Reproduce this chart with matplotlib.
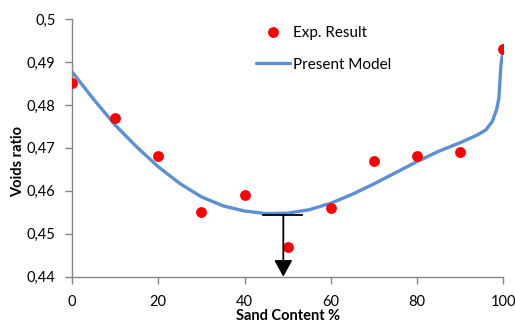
import matplotlib
matplotlib.use("Agg")
import matplotlib.pyplot as plt
from matplotlib.ticker import FuncFormatter

plt.rcParams['font.family'] = ['Lato', 'DejaVu Sans']

# experimental points
sand_exp = [0, 10, 20, 30, 40, 50, 60, 70, 80, 90, 100]
voids_exp = [0.485, 0.477, 0.468, 0.455, 0.459, 0.447, 0.456, 0.467, 0.468, 0.469, 0.493]

# model curve
sand_model = [0, 5, 10, 15, 20, 25, 30, 35, 40, 45, 50, 55, 60, 65, 70, 75, 80,
              85, 90, 94, 96, 97.5, 98.5, 99, 99.5, 99.8, 100]
voids_model = [0.4877, 0.4813, 0.4753, 0.4702, 0.4656, 0.4617, 0.4586, 0.4565,
               0.4553, 0.4547, 0.4548, 0.4556, 0.4571, 0.4592, 0.4616, 0.4642,
               0.4668, 0.4692, 0.4712, 0.4730, 0.4742, 0.4762, 0.4790, 0.4815,
               0.4895, 0.4915, 0.4930]

# optimum marker
opt_x = 49
opt_y = 0.4544
bar_x = [44.3, 53.4]

fig = plt.figure(figsize=(5.15, 3.23), dpi=100)
ax = fig.add_axes([0.140, 0.1433, 0.837, 0.7977])

ax.plot(sand_model, voids_model, color='#5b8fd6', lw=2.4, label='Present Model',
        solid_capstyle='round', solid_joinstyle='round', zorder=2)
ax.plot(sand_exp, voids_exp, 'o', color='#ff0000', ms=7.8, mec='none',
        label='Exp. Result', zorder=3)

# arrow showing the optimum sand content
ax.plot(bar_x, [opt_y, opt_y], color='black', lw=1.3, zorder=4)
ax.annotate('', xy=(opt_x, 0.44), xytext=(opt_x, opt_y),
            arrowprops=dict(arrowstyle='-|>,head_length=1.0,head_width=0.55',
                            color='black', lw=1.3, shrinkA=0, shrinkB=0),
            zorder=4)

ax.set_xlim(0, 100)
ax.set_ylim(0.44, 0.5)
ax.set_xticks(range(0, 101, 20))
ax.set_yticks([0.44, 0.45, 0.46, 0.47, 0.48, 0.49, 0.5])
ax.yaxis.set_major_formatter(FuncFormatter(lambda v, p: ('%g' % round(v, 3)).replace('.', ',')))

for s in ['top', 'right']:
    ax.spines[s].set_visible(False)
for s in ['left', 'bottom']:
    ax.spines[s].set_color('#868686')
    ax.spines[s].set_linewidth(1.0)
ax.tick_params(axis='both', colors='#868686', labelcolor='black', length=5,
               width=1.0, labelsize=10.5)
ax.tick_params(axis='x', pad=8)
ax.tick_params(axis='y', pad=7)

ax.set_xlabel('Sand Content %', fontsize=10.5, fontweight='bold', va='top')
ax.set_ylabel('Voids ratio', fontsize=10.5, fontweight='bold')
ax.xaxis.set_label_coords(0.5, -0.126)
ax.yaxis.set_label_coords(-0.109, 0.449)

h, l = ax.get_legend_handles_labels()
ax.legend(h[::-1], l[::-1], loc='upper left', bbox_to_anchor=(256 / 515, 1 - 26 / 323),
          bbox_transform=fig.transFigure, frameon=False, fontsize=11,
          handlelength=2.2, handletextpad=0.2, labelspacing=1.15,
          borderpad=0, borderaxespad=0)

fig.savefig('out.png', dpi=100)
